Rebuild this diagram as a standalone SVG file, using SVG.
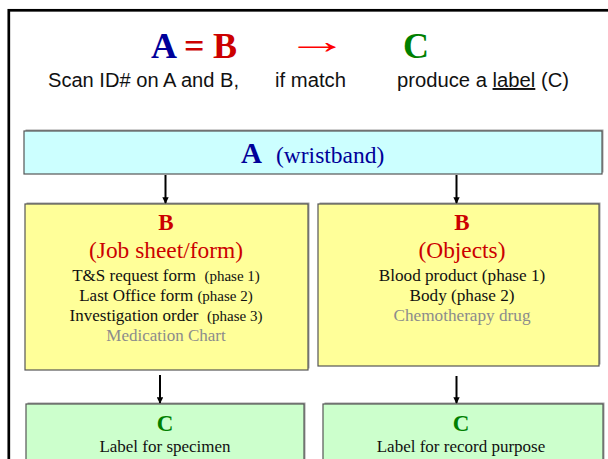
<svg xmlns="http://www.w3.org/2000/svg" width="608" height="459" viewBox="0 0 608 459">
<style>
.serif{font-family:"Liberation Serif","Times New Roman",serif}
.sans{font-family:"Liberation Sans",Arial,sans-serif}
.box{stroke:#555;stroke-width:1.2}
.shadow{fill:#a0a0a0}
.blue{fill:#000099}
.red{fill:#cc0000}
.green{fill:#008000}
.dark{fill:#111}
.gray{fill:#8c8c8c}
.conn{stroke:#000;stroke-width:2;fill:none}
</style>
<defs>
<marker id="ah" viewBox="0 0 10 10" refX="9" refY="5" markerWidth="3.2" markerHeight="3.2" orient="auto" markerUnits="strokeWidth">
<path d="M0,0 L10,5 L0,10 z" fill="#000"/>
</marker>
</defs>
<rect width="608" height="459" fill="#fff"/>
<rect x="8.8" y="10.3" width="700" height="600" fill="none" stroke="#000" stroke-width="2.7"/>

<g id="header">
<text class="serif blue" x="151" y="58" font-size="36" font-weight="bold">A</text>
<text class="serif red" x="184" y="58" font-size="36" font-weight="bold">=</text>
<text class="serif red" x="213" y="58" font-size="36" font-weight="bold">B</text>
<text class="serif" x="0" y="0" font-size="36" fill="#ff0000" transform="translate(286,53) scale(1.75,1)">→</text>
<text class="serif green" x="403" y="58" font-size="36" font-weight="bold">C</text>
<text class="sans dark" x="48" y="87" font-size="19.5" textLength="191" lengthAdjust="spacingAndGlyphs">Scan ID# on A and B,</text>
<text class="sans dark" x="275" y="87" font-size="19.5" textLength="71" lengthAdjust="spacingAndGlyphs">if match</text>
<text class="sans dark" x="397" y="87" font-size="19.5" textLength="172" lengthAdjust="spacingAndGlyphs">produce a <tspan text-decoration="underline">label</tspan> (C)</text>
</g>

<g id="nodeA">
<rect class="shadow" x="25.5" y="129.5" width="578" height="43"/>
<rect class="box" x="24" y="131" width="578" height="43" fill="#ccffff"/>
<text class="serif blue" x="241" y="163" font-size="29" font-weight="bold">A</text>
<text class="serif blue" x="276" y="163" font-size="23.5">(wristband)</text>
</g>

<g id="nodeB1">
<rect class="shadow" x="26.5" y="202.5" width="283" height="166"/>
<rect class="box" x="25" y="204" width="283" height="166" fill="#ffff99"/>
<text class="serif red" x="166" y="230" font-size="23" font-weight="bold" text-anchor="middle">B</text>
<text class="serif red" x="166" y="258" font-size="23.4" text-anchor="middle">(Job sheet/form)</text>
<text class="serif dark" x="166" y="281" font-size="17" text-anchor="middle" xml:space="preserve">T&amp;S request form  <tspan font-size="15">(phase 1)</tspan></text>
<text class="serif dark" x="166" y="301" font-size="17" text-anchor="middle">Last Office form <tspan font-size="15">(phase 2)</tspan></text>
<text class="serif dark" x="166" y="321" font-size="17" text-anchor="middle" xml:space="preserve">Investigation order  <tspan font-size="15">(phase 3)</tspan></text>
<text class="serif gray" x="166" y="341" font-size="17" text-anchor="middle">Medication Chart</text>
</g>

<g id="nodeB2">
<rect class="shadow" x="319.5" y="202.5" width="281" height="162"/>
<rect class="box" x="318" y="204" width="281" height="162" fill="#ffff99"/>
<text class="serif red" x="462" y="230" font-size="23" font-weight="bold" text-anchor="middle">B</text>
<text class="serif red" x="462" y="258" font-size="23.4" text-anchor="middle">(Objects)</text>
<text class="serif dark" x="462" y="281" font-size="17.2" text-anchor="middle">Blood product (phase 1)</text>
<text class="serif dark" x="462" y="301" font-size="17.2" text-anchor="middle">Body (phase 2)</text>
<text class="serif gray" x="462" y="321" font-size="17.2" text-anchor="middle">Chemotherapy drug</text>
</g>

<g id="nodeC1">
<rect class="shadow" x="27.5" y="402.5" width="278" height="70"/>
<rect class="box" x="26" y="404" width="278" height="70" fill="#ccffcc"/>
<text class="serif green" x="165" y="431" font-size="23" font-weight="bold" text-anchor="middle">C</text>
<text class="serif dark" x="165" y="452" font-size="17" text-anchor="middle">Label for specimen</text>
</g>

<g id="nodeC2">
<rect class="shadow" x="324.5" y="402.5" width="280" height="70"/>
<rect class="box" x="323" y="404" width="280" height="70" fill="#ccffcc"/>
<text class="serif green" x="461" y="431" font-size="23" font-weight="bold" text-anchor="middle">C</text>
<text class="serif dark" x="461" y="452" font-size="17" text-anchor="middle">Label for record purpose</text>
</g>

<g id="connectors">
<line class="conn" x1="165.5" y1="175" x2="165.5" y2="203" marker-end="url(#ah)"/>
<line class="conn" x1="456.5" y1="175" x2="456.5" y2="203" marker-end="url(#ah)"/>
<line class="conn" x1="160" y1="375" x2="160" y2="403" marker-end="url(#ah)"/>
<line class="conn" x1="456.5" y1="376" x2="456.5" y2="403" marker-end="url(#ah)"/>
</g>
</svg>
